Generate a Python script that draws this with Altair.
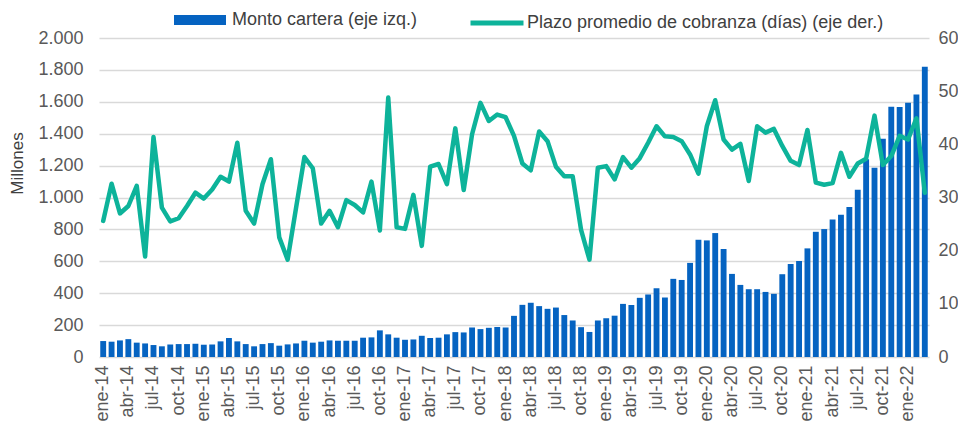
import altair as alt
import pandas as pd

MESES = ["ene", "feb", "mar", "abr", "may", "jun", "jul", "ago", "sep", "oct", "nov", "dic"]
periodos = [f"{m}-{y}" for y in range(14, 23) for m in MESES][:99]
etiquetas_x = periodos[::3]

# Monto cartera (millones), eje izquierdo
monto = [
    100, 96, 104, 112, 90, 85, 75, 67, 79, 81, 81, 83,          # 2014
    77, 79, 98, 119, 98, 81, 67, 81, 87, 71, 79, 85,            # 2015
    102, 90, 96, 104, 102, 102, 102, 121, 123, 167, 142, 121,   # 2016
    108, 110, 133, 119, 121, 142, 156, 154, 185, 175, 183, 188, # 2017
    185, 258, 327, 340, 319, 302, 310, 263, 229, 187, 157, 229, # 2018
    243, 259, 333, 326, 371, 392, 431, 373, 490, 483, 590, 735, # 2019
    731, 777, 677, 521, 452, 425, 425, 408, 396, 519, 583, 602, # 2020
    681, 785, 802, 862, 892, 940, 1048, 1240, 1187, 1369, 1569, 1567,  # 2021
    1594, 1646, 1819,                                           # 2022
]

# Plazo promedio de cobranza (días), eje derecho
plazo = [
    25.6, 32.6, 27.0, 28.4, 32.2, 18.9, 41.4, 28.1, 25.5, 26.1, 28.4, 30.9,
    29.8, 31.5, 33.9, 33.0, 40.3, 27.5, 25.1, 32.5, 37.2, 22.5, 18.3, 28.0,
    37.6, 35.5, 25.1, 27.5, 24.4, 29.5, 28.6, 27.2, 33.0, 23.8, 48.8, 24.4,
    24.1, 30.5, 20.9, 35.8, 36.3, 32.5, 43.0, 31.4, 41.9, 47.8, 44.4, 45.6,
    45.1, 41.6, 36.4, 35.1, 42.4, 40.6, 35.8, 34.0, 34.0, 23.9, 18.3, 35.6,
    35.9, 33.4, 37.6, 35.6, 37.4, 40.3, 43.4, 41.5, 41.4, 40.6, 38.1, 34.5,
    43.4, 48.3, 40.9, 39.0, 40.1, 33.1, 43.4, 42.2, 42.9, 39.7, 36.9, 36.1,
    42.7, 32.8, 32.4, 32.7, 38.4, 33.9, 36.4, 37.3, 45.4, 36.1, 37.8, 41.6,
    40.9, 44.9, 30.9,
]

serie_barras = "Monto cartera (eje izq.)"
serie_linea = "Plazo promedio de cobranza (días) (eje der.)"

df = pd.DataFrame({
    "periodo": periodos,
    "monto": monto,
    "plazo": plazo,
    "s1": serie_barras,
    "s2": serie_linea,
})

FONT = "Liberation Sans"
AZUL = "#0563C1"
VERDE = "#0DB39A"

x_enc = alt.X(
    "periodo:N",
    sort=periodos,
    scale=alt.Scale(paddingInner=0.3, paddingOuter=0.15),
    axis=alt.Axis(
        values=etiquetas_x, labelAngle=270, title=None, ticks=False, domain=False,
        grid=False, labelPadding=8, labelOverlap=False, labelBound=False,
        labelFontSize=18, labelFont=FONT, labelColor="#595959",
    ),
)

bars = alt.Chart(df).mark_bar().encode(
    x=x_enc,
    y=alt.Y(
        "monto:Q",
        scale=alt.Scale(domain=[0, 2000], nice=False),
        axis=alt.Axis(
            values=list(range(0, 2001, 200)),
            labelExpr="replace(format(datum.value, ','), ',', '.')",
            title="Millones", titleFontSize=17, titleFont=FONT, titleFontWeight="normal",
            titleColor="#404040", titleAngle=270, titleX=-82, titleY=125,
            titleAlign="center", titleBaseline="middle",
            grid=True, gridColor="#D9D9D9", gridWidth=1.5,
            ticks=False, domain=False, labelPadding=16,
            labelFontSize=18, labelFont=FONT, labelColor="#595959",
        ),
    ),
    color=alt.Color(
        "s1:N",
        scale=alt.Scale(domain=[serie_barras], range=[AZUL]),
        legend=alt.Legend(
            title=None, orient="none", legendX=75, legendY=-44,
            symbolType="M-1,-0.1923H1V0.1923H-1Z", symbolSize=2704,
            symbolStrokeWidth=0, labelFontSize=18, labelFont=FONT,
            labelColor="#404040", labelOffset=6, labelLimit=500, padding=0,
        ),
    ),
)

line = alt.Chart(df).mark_line(strokeWidth=4.5, strokeJoin="round", strokeCap="round").encode(
    x=x_enc,
    y=alt.Y(
        "plazo:Q",
        scale=alt.Scale(domain=[0, 60], nice=False),
        axis=alt.Axis(
            orient="right", values=list(range(0, 61, 10)), title=None, grid=False,
            ticks=False, domain=False, labelPadding=9,
            labelFontSize=18, labelFont=FONT, labelColor="#595959",
        ),
    ),
    color=alt.Color(
        "s2:N",
        scale=alt.Scale(domain=[serie_linea], range=[VERDE]),
        legend=alt.Legend(
            title=None, orient="none", legendX=369, legendY=-44,
            symbolType="stroke", symbolSize=2809, symbolStrokeWidth=5,
            labelFontSize=18, labelFont=FONT, labelColor="#404040",
            labelOffset=1, labelLimit=500, padding=0,
        ),
    ),
)

chart = (
    alt.layer(bars, line)
    .resolve_scale(y="independent", color="independent")
    .resolve_legend(color="independent")
    .properties(
        width=830, height=319,
        padding={"left": 91, "top": 30, "right": 29, "bottom": 68},
        autosize=alt.AutoSizeParams(type="none"),
        background="white",
    )
    .configure_view(stroke=None)
)

chart.save("out.html", embed_options={"renderer": "svg", "actions": False})
